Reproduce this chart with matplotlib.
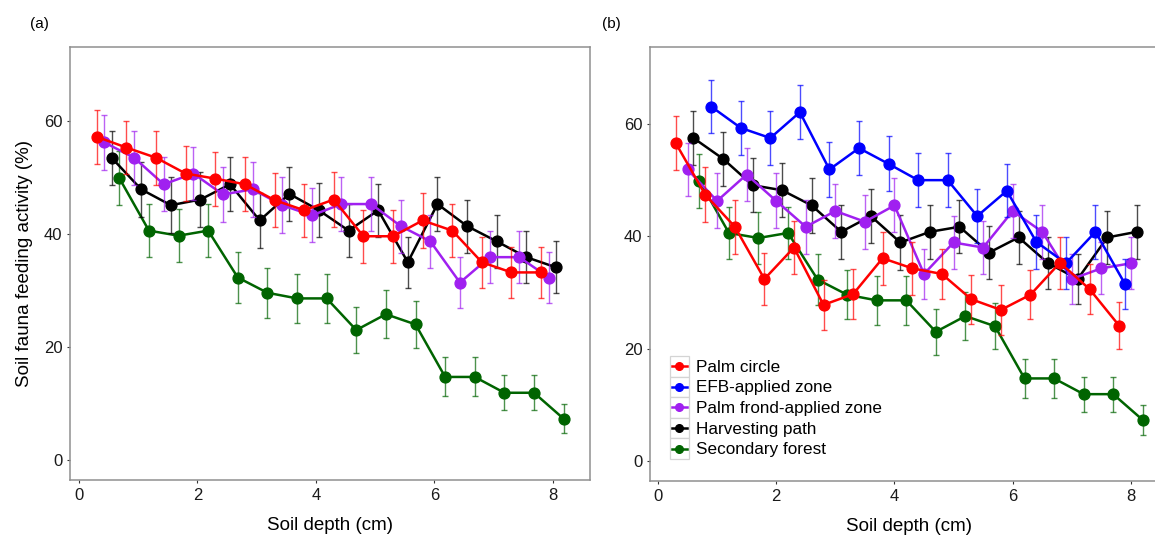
"""Soil fauna feeding activity by soil depth, two panels."""
import matplotlib
matplotlib.use('Agg')
import matplotlib.pyplot as plt
from matplotlib.legend_handler import HandlerBase
from matplotlib.lines import Line2D
from matplotlib.patches import Rectangle

plt.rcParams['font.family'] = ['Liberation Sans', 'DejaVu Sans']

# depths (cm) of the samples
depth = [0.5, 1.0, 1.5, 2.0, 2.5, 3.0, 3.5, 4.0,
         4.5, 5.0, 5.5, 6.0, 6.5, 7.0, 7.5, 8.0]
depth_efb = depth[1:]

# panel (a)
palm_a = [57.2, 55.3, 53.5, 50.7, 49.8, 48.8, 46.0, 44.2,
          46.1, 39.6, 39.6, 42.4, 40.6, 35.0, 33.2, 33.2]
palm_a_se = [4.8, 4.7, 4.8, 4.8, 4.8, 4.8, 4.8, 4.7,
             4.8, 4.7, 4.7, 4.8, 4.7, 4.5, 4.5, 4.5]
frond_a = [56.2, 53.5, 48.8, 50.7, 47.0, 47.9, 45.1, 43.3,
           45.3, 45.3, 41.4, 38.7, 31.4, 35.9, 35.9, 32.3]
frond_a_se = [4.8, 4.8, 4.8, 4.7, 4.8, 4.9, 4.9, 4.8,
              4.75, 4.75, 4.7, 4.75, 4.5, 4.65, 4.65, 4.5]
harvest_a = [53.5, 47.9, 45.1, 46.1, 48.8, 42.4, 47.1, 44.2,
             40.6, 44.2, 35.0, 45.3, 41.4, 38.7, 35.9, 34.1]
harvest_a_se = [4.8, 4.9, 4.9, 4.8, 4.8, 4.8, 4.8, 4.8,
                4.7, 4.7, 4.5, 4.75, 4.7, 4.65, 4.65, 4.6]

# secondary forest, same in both panels
forest = [49.9, 40.6, 39.7, 40.6, 32.3, 29.6, 28.6, 28.6,
          23.0, 25.8, 24.0, 14.7, 14.7, 11.9, 11.9, 7.3]
forest_se = [4.8, 4.7, 4.7, 4.7, 4.5, 4.4, 4.4, 4.35,
             4.1, 4.2, 4.1, 3.45, 3.45, 3.1, 3.1, 2.6]

# panel (b)
palm_b = [56.6, 47.4, 41.7, 32.4, 38.0, 27.8, 29.7, 36.1,
          34.3, 33.3, 28.8, 26.9, 29.6, 35.3, 30.6, 24.1]
palm_b_se = [4.75, 4.9, 4.8, 4.6, 4.7, 4.4, 4.5, 4.75,
             4.75, 4.5, 4.4, 4.4, 4.4, 4.6, 4.5, 4.15]
efb_b = [63.1, 59.3, 57.5, 62.1, 51.9, 55.7, 52.9, 50.0,
         50.0, 43.6, 48.1, 39.0, 35.2, 40.8, 31.5]
efb_b_se = [4.7, 4.8, 4.8, 4.75, 4.85, 4.85, 4.9, 4.75,
            4.75, 4.75, 4.75, 4.8, 4.6, 4.75, 4.5]
frond_b = [51.9, 46.3, 51.0, 46.3, 41.7, 44.5, 42.6, 45.5,
           33.3, 38.9, 38.0, 44.5, 40.8, 32.4, 34.3, 35.2]
frond_b_se = [4.8, 4.9, 4.8, 4.9, 4.8, 4.8, 4.8, 4.8,
              4.5, 4.8, 4.75, 4.8, 4.75, 4.5, 4.6, 4.6]
harvest_b = [57.5, 53.8, 49.1, 48.2, 45.5, 40.8, 43.6, 38.9,
             40.8, 41.7, 37.1, 39.8, 35.2, 32.4, 39.8, 40.8]
harvest_b_se = [4.8, 4.8, 4.8, 4.8, 4.85, 4.8, 4.8, 4.9,
                4.75, 4.75, 4.65, 4.7, 4.6, 4.5, 4.7, 4.8]

labels = ['Palm circle', 'EFB-applied zone', 'Palm frond-applied zone',
          'Harvesting path', 'Secondary forest']
colors = ['#ff0000', '#0000ff', '#a020f0', '#000000', '#006400']

SPINE = '#8f8f8f'


class KeyHandler(HandlerBase):
    """ggplot style legend key: grey box, line and point."""

    def create_artists(self, legend, orig_handle, xdescent, ydescent,
                       width, height, fontsize, trans):
        c = orig_handle.get_color()
        box = Rectangle((-xdescent, -ydescent), width, height,
                        fc='white', ec='#d4d4d4', lw=0.9, transform=trans)
        yc = height / 2 - ydescent
        ln = Line2D([-xdescent + width * 0.12, -xdescent + width * 0.88],
                    [yc, yc], color=c, lw=1.8, transform=trans)
        mk = Line2D([width / 2 - xdescent], [yc], marker='o', ms=5.5,
                    color=c, lw=0, transform=trans)
        return [box, ln, mk]


def draw(ax, x, y, err, color, label):
    ax.errorbar(x, y, yerr=err, fmt='none', ecolor=color, alpha=0.7,
                elinewidth=1.0, capsize=2.3, capthick=1.0)
    return ax.plot(x, y, '-o', color=color, lw=1.8, ms=7.8,
                   label=label)[0]


def style(ax, xlim, ylim):
    ax.set_xlim(xlim)
    ax.set_ylim(ylim)
    ax.set_xticks([0, 2, 4, 6, 8])
    ax.set_yticks([0, 20, 40, 60])
    for s in ax.spines.values():
        s.set_color(SPINE)
        s.set_linewidth(1.1)
    ax.tick_params(direction='out', length=2.5, width=0.8, color='#333333',
                   labelsize=12, labelcolor='#1a1a1a', pad=3)
    ax.set_xlabel('Soil depth (cm)', fontsize=13.5, labelpad=10)


fig = plt.figure(figsize=(11.55, 5.41), dpi=100)

ax0 = fig.add_axes([70 / 1155, 61 / 541, 519.7 / 1155, 433.3 / 541])
ax1 = fig.add_axes([650 / 1155, 60 / 541, 517 / 1155, 433.7 / 541])

xa = [d - 0.2 for d in depth]
draw(ax0, [d + 0.18 for d in depth], forest, forest_se, colors[4], labels[4])
draw(ax0, [d + 0.05 for d in depth], harvest_a, harvest_a_se, colors[3], labels[3])
draw(ax0, [d - 0.07 for d in depth], frond_a, frond_a_se, colors[2], labels[2])
draw(ax0, xa, palm_a, palm_a_se, colors[0], labels[0])
style(ax0, (-0.152, 8.62), (-3.54, 73.15))
ax0.set_ylabel('Soil fauna feeding activity (%)', fontsize=13.5, labelpad=8)

h4 = draw(ax1, [d + 0.2 for d in depth], forest, forest_se, colors[4], labels[4])
h3 = draw(ax1, [d + 0.1 for d in depth], harvest_b, harvest_b_se, colors[3], labels[3])
h2 = draw(ax1, depth, frond_b, frond_b_se, colors[2], labels[2])
h1 = draw(ax1, [d - 0.1 for d in depth_efb], efb_b, efb_b_se, colors[1], labels[1])
h0 = draw(ax1, xa, palm_b, palm_b_se, colors[0], labels[0])
style(ax1, (-0.135, 8.61), (-3.56, 73.65))

ax1.legend(
    [h0, h1, h2, h3, h4], labels,
    handler_map={Line2D: KeyHandler()},
    loc='lower left', bbox_to_anchor=(0.0387, 0.0507),
    frameon=False, fontsize=12.3, borderpad=0, borderaxespad=0,
    handlelength=1.1, handleheight=1.48, handletextpad=0.4,
    labelspacing=0.0,
)

fig.text(39 / 1155, 1 - 24 / 541, '(a)', fontsize=11, ha='center', va='center')
fig.text(611 / 1155, 1 - 24 / 541, '(b)', fontsize=11, ha='center', va='center')

fig.savefig('out.png', dpi=100)
plt.close(fig)
